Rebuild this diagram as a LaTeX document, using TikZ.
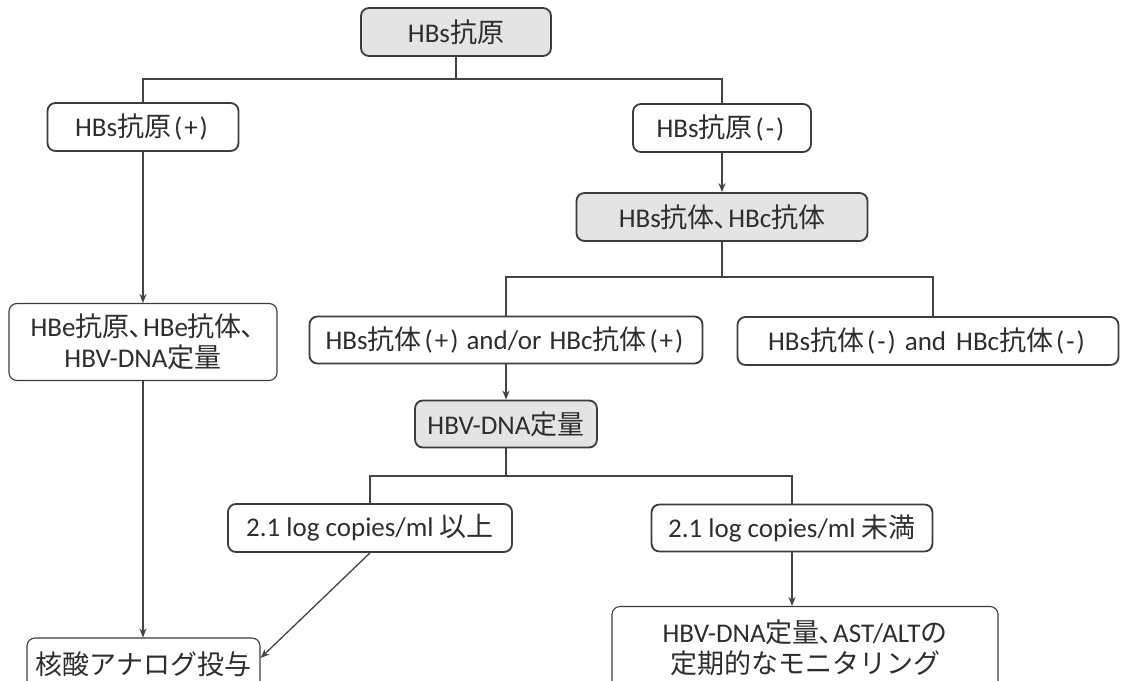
\documentclass[tikz,border=0pt]{standalone}
\usepackage{fontspec}
\setmainfont{Carlito}
\newfontfamily\cjk{Noto Sans CJK JP}
\newcommand{\J}[1]{{\cjk #1}}
\newcommand{\sgn}[1]{\kern3pt(\kern2pt#1\kern2pt)\kern3pt}
\usetikzlibrary{arrows.meta}
\definecolor{ink}{HTML}{2E2E2E}
\definecolor{edge}{HTML}{3C3C3C}
\definecolor{boxgray}{HTML}{E4E4E4}
\definecolor{wire}{HTML}{444444}
\tikzset{
  box/.style={draw=edge, line width=1.8pt, rounded corners=8pt, fill=white,
    text=ink, inner sep=0pt, align=center,
    font=\fontsize{27}{31}\selectfont},
  gbox/.style={box, fill=boxgray},
  tbox/.style={box, line width=1.1pt},
  wireline/.style={draw=wire, line width=1.3pt},
  arr/.style={wireline, -{Stealth[length=9pt,width=7pt]}}
}
\begin{document}
\begin{tikzpicture}[x=1pt,y=-1pt]
\useasboundingbox (0,0) rectangle (1126,680);
\clip (0,0) rectangle (1126,680);
\fill[white] (0,0) rectangle (1126,680);

\node[gbox, minimum width=190pt, minimum height=48pt] (top) at (456,32) {HBs\J{抗原}};
\node[box, minimum width=191pt, minimum height=48pt] (pos) at (143,127) {HBs\J{抗原}\sgn{+}};
\node[box, minimum width=178pt, minimum height=48pt] (neg) at (722,128) {HBs\J{抗原}\sgn{-}};
\node[gbox, minimum width=291pt, minimum height=48pt] (ab) at (722,217) {HBs\J{抗体､}HBc\J{抗体}};
\node[box, minimum width=393pt, minimum height=47pt] (andor) at (506,340) {HBs\J{抗体}\sgn{+}\kern5pt and/or\kern2pt{} HBc\J{抗体}\sgn{+}};
\node[box, minimum width=381pt, minimum height=48pt] (nn) at (928,341) {HBs\J{抗体}\sgn{-}\kern6pt and\kern4pt{} HBc\J{抗体}\sgn{-}};
\node[tbox, minimum width=268pt, minimum height=77pt] (hbe) at (143,342) {HBe\J{抗原､}HBe\J{抗体､}\\HBV-DNA\J{定量}};
\node[gbox, minimum width=182pt, minimum height=47pt] (dna) at (506,424) {HBV-DNA\J{定量}};
\node[box, minimum width=284pt, minimum height=48pt] (ge) at (370,528) {2.1 log copies/ml \J{以上}};
\node[box, minimum width=281pt, minimum height=47pt] (lt) at (792,528) {2.1 log copies/ml \J{未満}};
\node[tbox, minimum width=386pt, minimum height=83pt] (mon) at (805,648) {HBV-DNA\J{定量､}AST/ALT\J{の}\\\J{定期的なモニタリング}};
\node[tbox, minimum width=233pt, minimum height=52pt] (nuc) at (143.5,664) {\J{核酸アナログ投与}};

\coordinate (bar1) at (0,79);
\coordinate (bar2) at (0,277);
\coordinate (bar3) at (0,476);
\coordinate (nnTop) at (933,317);

\draw[wireline] (top.south) -- (top.south |- bar1);
\draw[wireline] (pos.north) -- (pos.north |- bar1) -| (neg.north);
\draw[arr] (pos.south) -- (pos.south |- hbe.north);
\draw[arr] (neg.south) -- (neg.south |- ab.north);
\draw[wireline] (ab.south) -- (ab.south |- bar2);
\draw[wireline] (andor.north) -- (andor.north |- bar2) -| (nnTop);
\draw[arr] (andor.south) -- (andor.south |- dna.north);
\draw[wireline] (dna.south) -- (dna.south |- bar3);
\draw[wireline] (ge.north) -- (ge.north |- bar3) -| (lt.north);
\draw[arr] (lt.south) -- (lt.south |- mon.north);
\draw[arr] (hbe.south) -- (hbe.south |- nuc.north);
\draw[arr] (ge.south) -- ([yshift=6pt]nuc.east);
\end{tikzpicture}
\end{document}
